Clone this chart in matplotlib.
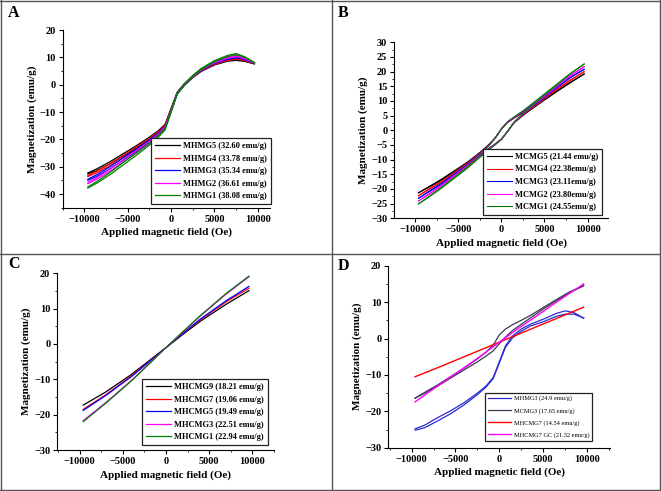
import matplotlib
matplotlib.use("Agg")
import matplotlib.pyplot as plt
from matplotlib.lines import Line2D
from matplotlib.ticker import MultipleLocator, AutoMinorLocator

plt.rcParams['font.family'] = ['Liberation Serif', 'DejaVu Serif']
plt.rcParams['font.weight'] = 'bold'

# ---- panel A: MHMG series (loop branches) ----
field_a = [-9600, -8500, -7000, -5500, -4000, -2500, -1500, -700, 700, 1500, 2500, 3500, 5000, 6500, 7500, 8500, 9600]
labels_a = ['MHMG5 (32.60 emu/g)', 'MHMG4 (33.78 emu/g)', 'MHMG3 (35.34 emu/g)',
            'MHMG2 (36.61 emu/g)', 'MHMG1 (38.08 emu/g)']
mhmg5_up = [-32.6, -31.3, -28.9, -26.1, -23.2, -20.0, -17.6, -15.2, -3.3, -0.3, 2.6, 4.9, 7.2, 8.6, 8.9, 8.5, 7.6]
mhmg5_dn = [-32.3, -30.7, -28.1, -25.2, -22.3, -19.2, -16.9, -14.5, -2.8, 0.2, 3.0, 5.3, 7.6, 9.0, 9.3, 8.7, 7.7]
mhmg4_up = [-33.6, -32.1, -29.6, -26.7, -23.7, -20.4, -17.9, -15.5, -3.3, -0.3, 2.7, 5.0, 7.4, 8.9, 9.3, 8.8, 7.7]
mhmg4_dn = [-33.2, -31.5, -28.8, -25.8, -22.8, -19.6, -17.2, -14.8, -2.8, 0.2, 3.1, 5.4, 7.8, 9.3, 9.7, 9.0, 7.8]
mhmg3_up = [-35.0, -33.4, -30.7, -27.6, -24.4, -21.0, -18.4, -15.9, -3.4, -0.3, 2.8, 5.2, 7.7, 9.3, 9.8, 9.2, 7.8]
mhmg3_dn = [-34.6, -32.8, -29.9, -26.7, -23.5, -20.2, -17.7, -15.2, -2.9, 0.2, 3.2, 5.6, 8.1, 9.7, 10.2, 9.4, 7.9]
mhmg2_up = [-36.2, -34.5, -31.6, -28.3, -25.0, -21.5, -18.8, -16.2, -3.4, -0.3, 2.9, 5.4, 8.0, 9.7, 10.3, 9.5, 7.9]
mhmg2_dn = [-35.8, -33.9, -30.8, -27.4, -24.1, -20.7, -18.1, -15.5, -2.9, 0.2, 3.3, 5.8, 8.4, 10.1, 10.7, 9.7, 8.0]
mhmg1_up = [-37.8, -35.9, -32.8, -29.3, -25.8, -22.1, -19.3, -16.6, -3.5, -0.3, 3.0, 5.6, 8.4, 10.3, 11.0, 10.0, 8.0]
mhmg1_dn = [-37.4, -35.3, -32.0, -28.4, -24.9, -21.3, -18.6, -15.9, -3.0, 0.2, 3.4, 6.0, 8.8, 10.7, 11.4, 10.2, 8.1]

# ---- panel B: MCMG series ----
field_b = [-9600, -8500, -7000, -5500, -4000, -2500, -1500, -700, 0, 700, 1500, 2500, 3500, 5000, 6500, 8000, 9600]
labels_b = ['MCMG5 (21.44 emu/g)', 'MCMG4 (22.38emu/g)', 'MCMG3 (23.11emu/g)',
            'MCMG2 (23.80emu/g)', 'MCMG1 (24.55emu/g)']
mcmg5_up = [-21.3, -19.6, -17.1, -14.3, -11.5, -8.4, -6.3, -4.6, -3.0, -0.5, 2.6, 5.0, 7.2, 10.3, 13.3, 16.2, 19.2]
mcmg5_dn = [-21.3, -19.4, -16.8, -13.9, -11.0, -7.6, -5.0, -2.5, 0.4, 2.6, 4.2, 6.0, 7.9, 10.7, 13.6, 16.4, 19.2]
mcmg4_up = [-22.3, -20.4, -17.8, -14.9, -12.0, -8.7, -6.4, -4.7, -3.1, -0.5, 2.7, 5.2, 7.5, 10.8, 13.9, 17.0, 20.0]
mcmg4_dn = [-22.3, -20.2, -17.5, -14.5, -11.5, -7.9, -5.2, -2.6, 0.4, 2.7, 4.3, 6.2, 8.2, 11.2, 14.2, 17.2, 20.0]
mcmg3_up = [-23.2, -21.2, -18.5, -15.4, -12.4, -8.9, -6.5, -4.8, -3.1, -0.5, 2.8, 5.4, 7.8, 11.3, 14.6, 17.9, 20.8]
mcmg3_dn = [-23.2, -21.0, -18.2, -15.0, -11.9, -8.1, -5.3, -2.6, 0.4, 2.8, 4.4, 6.4, 8.5, 11.7, 14.9, 18.1, 20.8]
mcmg2_up = [-24.1, -22.1, -19.2, -15.9, -12.7, -9.1, -6.6, -4.8, -3.1, -0.4, 2.8, 5.5, 8.0, 11.6, 15.1, 18.5, 21.7]
mcmg2_dn = [-24.1, -21.9, -18.9, -15.5, -12.2, -8.3, -5.4, -2.6, 0.4, 2.8, 4.5, 6.5, 8.7, 12.0, 15.4, 18.7, 21.7]
mcmg1_up = [-25.1, -23.0, -19.9, -16.5, -13.1, -9.3, -6.8, -4.9, -3.2, -0.4, 2.9, 5.7, 8.2, 12.0, 15.6, 19.2, 22.6]
mcmg1_dn = [-25.1, -22.8, -19.6, -16.1, -12.6, -8.5, -5.5, -2.7, 0.5, 2.9, 4.6, 6.6, 8.9, 12.4, 15.9, 19.4, 22.6]

# ---- panel C: MHCMG series ----
field_c = [-9600, -7000, -4000, -2000, 0, 2000, 4000, 7000, 9600]
labels_c = ['MHCMG9 (18.21 emu/g)', 'MHCMG7 (19.06 emu/g)', 'MHCMG5 (19.49 emu/g)',
            'MHCMG3 (22.51 emu/g)', 'MHCMG1 (22.94 emu/g)']
mhcmg9 = [-17.3, -13.6, -8.6, -4.8, -1.0, 2.8, 6.5, 11.3, 15.1]
mhcmg7 = [-18.5, -14.4, -9.0, -5.0, -1.0, 3.0, 6.9, 12.0, 15.8]
mhcmg5 = [-18.8, -14.6, -9.2, -5.1, -1.0, 3.1, 7.1, 12.3, 16.3]
mhcmg3 = [-21.7, -16.6, -10.3, -5.7, -1.0, 3.5, 8.0, 14.2, 19.0]
mhcmg1 = [-22.0, -16.8, -10.4, -5.7, -1.0, 3.6, 8.1, 14.4, 19.2]

# ---- panel D: comparison ----
labels_d = ['MHMG3 (24.9 emu/g)', 'MCMG3 (17.65 emu/g)', 'MHCMG7 (14.54 emu/g)', 'MHCMG7 GC (21.32 emu/g)']
d_mhmg3_up = [-25.2, -24.5, -22.6, -20.6, -18.2, -15.4, -13.3, -11.0, -2.4, 0.2, 2.0, 3.4, 4.6, 6.1, 6.7, 6.7, 5.6]
d_mhmg3_dn = [-24.8, -23.8, -21.7, -19.8, -17.6, -15.0, -13.0, -10.7, -2.0, 0.7, 2.6, 3.9, 5.3, 6.9, 7.6, 7.1, 5.6]
d_mcmg3_up = [-16.4, -15.0, -13.0, -10.8, -8.6, -6.4, -4.8, -3.4, -1.4, 0.4, 2.2, 3.9, 5.6, 8.1, 10.4, 12.6, 14.5]
d_mcmg3_dn = [-16.4, -14.8, -12.7, -10.4, -8.1, -5.6, -3.7, -1.8, 1.0, 2.6, 3.8, 5.0, 6.3, 8.5, 10.7, 12.8, 14.5]
d_mhcmg7 = [-10.5, -8.0, -5.0, -3.0, -1.0, 1.0, 3.0, 6.0, 8.6]
d_mhcmg7gc = [-17.4, -13.0, -8.0, -4.6, -1.0, 2.5, 5.8, 10.8, 15.0]

colors5 = ['#000000', '#ff0000', '#0000ff', '#ff00ff', '#008000']

W, H = 661, 491
fig = plt.figure(figsize=(W / 100, H / 100), dpi=100)


def px_axes(left, top, right, bottom):
    return fig.add_axes([left / W, 1 - bottom / H, (right - left) / W, (bottom - top) / H])


def style(ax, xlim, ylim, ystep):
    ax.set_xlim(*xlim)
    ax.set_ylim(*ylim)
    ax.spines['top'].set_visible(False)
    ax.spines['right'].set_visible(False)
    ax.xaxis.set_major_locator(MultipleLocator(5000))
    ax.xaxis.set_minor_locator(AutoMinorLocator(2))
    ax.yaxis.set_major_locator(MultipleLocator(ystep))
    ax.yaxis.set_minor_locator(AutoMinorLocator(2))
    ax.tick_params(which='major', length=3, width=0.8, labelsize=7.5, pad=2)
    ax.tick_params(which='minor', length=1.5, width=0.6)
    for t in ax.get_xticklabels() + ax.get_yticklabels():
        t.set_fontweight('bold')
    ax.set_xlabel('Applied magnetic field (Oe)', fontsize=8, fontweight='bold', labelpad=3)
    ax.set_ylabel('Magnetization (emu/g)', fontsize=8, fontweight='bold', labelpad=2)


def legend(ax, anchor, fs, weight='bold', hl=3.0, ls=0.55):
    leg = ax.legend(loc='lower right', bbox_to_anchor=anchor, borderaxespad=0,
                    fancybox=False, edgecolor='#222222', framealpha=1,
                    prop={'size': fs, 'weight': weight}, handlelength=hl,
                    labelspacing=ls, borderpad=0.45, handletextpad=0.4)
    leg.get_frame().set_linewidth(0.9)


# A
ax = px_axes(62.7, 30, 270, 207.7)
series_a = [(mhmg5_up, mhmg5_dn), (mhmg4_up, mhmg4_dn), (mhmg3_up, mhmg3_dn),
            (mhmg2_up, mhmg2_dn), (mhmg1_up, mhmg1_dn)]
for (up, dn), c, lab in zip(series_a, colors5, labels_a):
    ax.plot(field_a, up, color=c, lw=0.9, label=lab)
    ax.plot(field_a, dn, color=c, lw=0.9)
style(ax, (-12500, 11400), (-45, 20), 10)
legend(ax, (1.005, 0.02), 6)

# B
ax = px_axes(394.3, 42.3, 608.3, 218.3)
series_b = [(mcmg5_up, mcmg5_dn), (mcmg4_up, mcmg4_dn), (mcmg3_up, mcmg3_dn),
            (mcmg2_up, mcmg2_dn), (mcmg1_up, mcmg1_dn)]
for (up, dn), c, lab in zip(series_b, colors5, labels_b):
    ax.plot(field_b, up, color=c, lw=0.8, label=lab)
    ax.plot(field_b, dn, color=c, lw=0.8)
style(ax, (-12400, 12400), (-30, 30), 5)
legend(ax, (0.97, 0.019), 6)

# C
ax = px_axes(57.3, 273.3, 274, 450)
for vals, c, lab in zip([mhcmg9, mhcmg7, mhcmg5, mhcmg3, mhcmg1], colors5, labels_c):
    ax.plot(field_c, vals, color=c, lw=0.9, label=lab)
style(ax, (-12600, 12500), (-30, 20), 10)
legend(ax, (0.972, 0.028), 6)

# D
ax = px_axes(388.3, 265.7, 610, 447.7)
ax.plot(field_a, d_mhmg3_up, color='#2b2bd0', lw=0.9, label=labels_d[0])
ax.plot(field_a, d_mhmg3_dn, color='#2b2bd0', lw=0.9)
ax.plot(field_b, d_mcmg3_up, color='#3a3a55', lw=0.9, label=labels_d[1])
ax.plot(field_b, d_mcmg3_dn, color='#3a3a55', lw=0.9)
ax.plot(field_c, d_mhcmg7, color='#ff0000', lw=1.0, label=labels_d[2])
ax.plot(field_c, d_mhcmg7gc, color='#ff00ff', lw=1.0, label=labels_d[3])
style(ax, (-12650, 12600), (-30, 20), 10)
legend(ax, (0.919, 0.037), 4.6, weight='normal', hl=3.6, ls=1.0)

# panel letters
for txt, x, y in [('A', 8, 17), ('B', 338, 17), ('C', 8, 268), ('D', 338, 270)]:
    fig.text(x / W, 1 - y / H, txt, fontsize=11.5, fontweight='bold', ha='left', va='baseline')

# panel frames
frame = dict(color='#555555', lw=1.0)
for xs, ys in [([1, 1], [0, H]), ([W - 1.5, W - 1.5], [0, H]), ([0, W], [H - 1, H - 1]),
               ([0, W], [1, 1]), ([331.5, 331.5], [0, H]), ([0, W], [H - 253.5, H - 253.5])]:
    fig.add_artist(Line2D([x / W for x in xs], [y / H for y in ys], **frame))

fig.savefig('out.png', dpi=100)
